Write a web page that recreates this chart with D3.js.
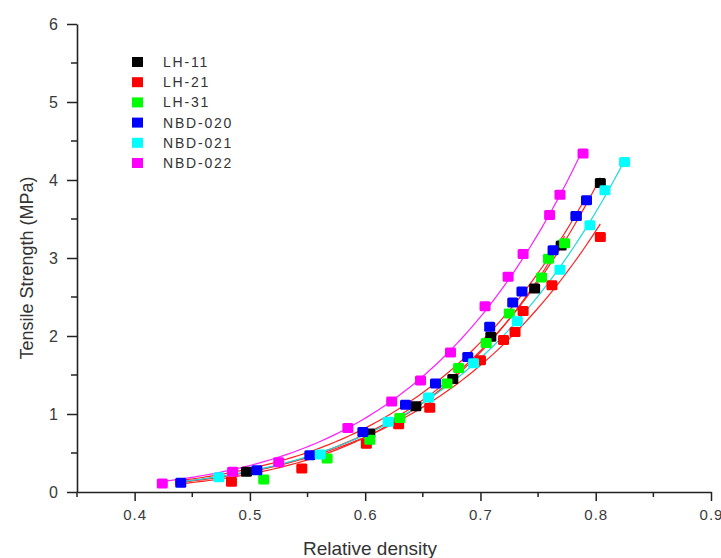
<!DOCTYPE html>
<html>
<head>
<meta charset="utf-8">
<title>Tensile strength vs relative density</title>
<script src="https://d3js.org/d3.v7.min.js"></script>
<style>
  body { margin: 0; background: #fff; }
  text { font-family: "Liberation Sans", Arial, sans-serif; }
</style>
</head>
<body>
<script>
// series names and colours
const seriesNames = ["LH-11", "LH-21", "LH-31", "NBD-020", "NBD-021", "NBD-022"];
const markerColors = ["#000000", "#ff0000", "#00ff00", "#0000ff", "#00ffff", "#ff00ff"];
const fitColors = ["#ff2020", "#ff2020", "#ff2020", "#ff2020", "#20d8d8", "#ff20ff"];

// values (relative density, tensile strength MPa)
const lh11X = [0.497, 0.604, 0.644, 0.676, 0.709, 0.747, 0.770, 0.783, 0.804];
const lh11Y = [0.26, 0.75, 1.10, 1.45, 1.99, 2.61, 3.16, 3.54, 3.96];
const lh21X = [0.484, 0.545, 0.601, 0.629, 0.656, 0.700, 0.720, 0.730, 0.737, 0.762, 0.804];
const lh21Y = [0.13, 0.30, 0.62, 0.87, 1.08, 1.69, 1.95, 2.05, 2.32, 2.65, 3.27];
const lh31X = [0.512, 0.567, 0.604, 0.630, 0.671, 0.681, 0.705, 0.725, 0.753, 0.759, 0.773];
const lh31Y = [0.16, 0.43, 0.67, 0.95, 1.39, 1.59, 1.91, 2.29, 2.75, 2.99, 3.19];
const nbd020X = [0.440, 0.506, 0.552, 0.598, 0.635, 0.661, 0.689, 0.708, 0.728, 0.736, 0.763, 0.783, 0.792];
const nbd020Y = [0.12, 0.28, 0.47, 0.77, 1.12, 1.39, 1.73, 2.12, 2.43, 2.57, 3.10, 3.54, 3.74];
const nbd021X = [0.473, 0.561, 0.620, 0.655, 0.694, 0.732, 0.769, 0.795, 0.808, 0.825];
const nbd021Y = [0.19, 0.48, 0.90, 1.21, 1.65, 2.19, 2.85, 3.42, 3.87, 4.23];
const nbd022X = [0.424, 0.485, 0.525, 0.585, 0.623, 0.648, 0.674, 0.704, 0.724, 0.737, 0.760, 0.769, 0.789];
const nbd022Y = [0.11, 0.26, 0.38, 0.82, 1.16, 1.43, 1.79, 2.38, 2.76, 3.05, 3.55, 3.81, 4.34];

const xTicks = [0.4, 0.5, 0.6, 0.7, 0.8, 0.9];
const xMinor = [0.35, 0.45, 0.55, 0.65, 0.75, 0.85];
const yTicks = [0, 1, 2, 3, 4, 5, 6];
const yMinor = [0.5, 1.5, 2.5, 3.5, 4.5, 5.5];

const allX = [lh11X, lh21X, lh31X, nbd020X, nbd021X, nbd022X];
const allY = [lh11Y, lh21Y, lh31Y, nbd020Y, nbd021Y, nbd022Y];

const series = seriesNames.map((name, i) => ({
  name: name,
  color: markerColors[i],
  fit: fitColors[i],
  points: allX[i].map((x, j) => ({ x: x, y: allY[i][j] }))
}));

const width = 721, height = 558;

const x = d3.scaleLinear().domain([0.35, 0.9]).range([77, 711]);
const y = d3.scaleLinear().domain([0, 6]).range([492, 24]);

const svg = d3.select("body").append("svg")
  .attr("width", width)
  .attr("height", height);

// power law fit y = a * x^n (least squares on y), searched over n
function powerFit(pts) {
  let best = null;
  for (let n = 1; n <= 15; n += 0.01) {
    let num = 0, den = 0;
    pts.forEach(p => { const xn = Math.pow(p.x, n); num += p.y * xn; den += xn * xn; });
    const a = num / den;
    let sse = 0;
    pts.forEach(p => { const r = p.y - a * Math.pow(p.x, n); sse += r * r; });
    if (!best || sse < best.sse) best = { a: a, n: n, sse: sse };
  }
  return xv => best.a * Math.pow(xv, best.n);
}

// fitted curves
const line = d3.line().x(d => x(d[0])).y(d => y(d[1]));
series.forEach(s => {
  const f = powerFit(s.points);
  const x0 = Math.min(0.435, d3.min(s.points, d => d.x)), x1 = d3.max(s.points, d => d.x);
  const samples = d3.range(0, 81).map(k => {
    const xv = x0 + (x1 - x0) * k / 80;
    return [xv, f(xv)];
  });
  svg.append("path")
    .attr("d", line(samples))
    .attr("fill", "none")
    .attr("stroke", s.fit)
    .attr("stroke-width", 1.2);
});

// markers
series.forEach(s => {
  svg.append("g").selectAll("rect")
    .data(s.points)
    .join("rect")
      .attr("x", d => x(d.x) - 5.5)
      .attr("y", d => y(d.y) - 5)
      .attr("width", 11)
      .attr("height", 10)
      .attr("rx", 1.5)
      .attr("fill", s.color);
});

// x axis
const xAxis = svg.append("g")
  .attr("transform", "translate(0,492)")
  .call(d3.axisBottom(x).tickValues(xTicks).tickSize(9).tickSizeOuter(0).tickFormat(d3.format(".1f")));
svg.append("g")
  .attr("transform", "translate(0,492)")
  .selectAll("line")
  .data(xMinor)
  .join("line")
    .attr("x1", d => x(d)).attr("x2", d => x(d))
    .attr("y1", 0).attr("y2", 5)
    .attr("stroke", "#222").attr("stroke-width", 1.5);

// y axis
const yAxis = svg.append("g")
  .attr("transform", "translate(77,0)")
  .call(d3.axisLeft(y).tickValues(yTicks).tickSize(10).tickSizeOuter(0).tickFormat(d3.format("d")));
svg.append("g")
  .attr("transform", "translate(77,0)")
  .selectAll("line")
  .data(yMinor)
  .join("line")
    .attr("x1", -6).attr("x2", 0)
    .attr("y1", d => y(d)).attr("y2", d => y(d))
    .attr("stroke", "#222").attr("stroke-width", 1.5);

[xAxis, yAxis].forEach(a => {
  a.select(".domain").attr("stroke", "#222").attr("stroke-width", 1.6);
  a.selectAll(".tick line").attr("stroke", "#222").attr("stroke-width", 1.5);
  a.selectAll(".tick text")
    .attr("fill", "#3a3a3a")
    .attr("font-size", 15)
    .attr("font-family", "Liberation Sans, Arial, sans-serif");
});
xAxis.selectAll(".tick text").attr("dy", "1.05em").attr("letter-spacing", 1);
yAxis.selectAll(".tick text").attr("x", -19).attr("font-size", 16);

// axis titles
svg.append("text")
  .attr("x", 370)
  .attr("y", 555)
  .attr("text-anchor", "middle")
  .attr("font-size", 19)
  .attr("fill", "#333")
  .text("Relative density");

svg.append("text")
  .attr("transform", "translate(33,268) rotate(-90)")
  .attr("text-anchor", "middle")
  .attr("font-size", 18)
  .attr("fill", "#333")
  .text("Tensile Strength (MPa)");

// legend
const legend = svg.append("g");
series.forEach((s, i) => {
  const ly = 62 + i * 20.2;
  legend.append("rect")
    .attr("x", 132).attr("y", ly - 5)
    .attr("width", 11).attr("height", 10)
    .attr("fill", s.color);
  legend.append("text")
    .attr("x", 163).attr("y", ly + 5)
    .attr("font-size", 14)
    .attr("letter-spacing", 1.8)
    .attr("fill", "#333")
    .text(s.name);
});
</script>
</body>
</html>
